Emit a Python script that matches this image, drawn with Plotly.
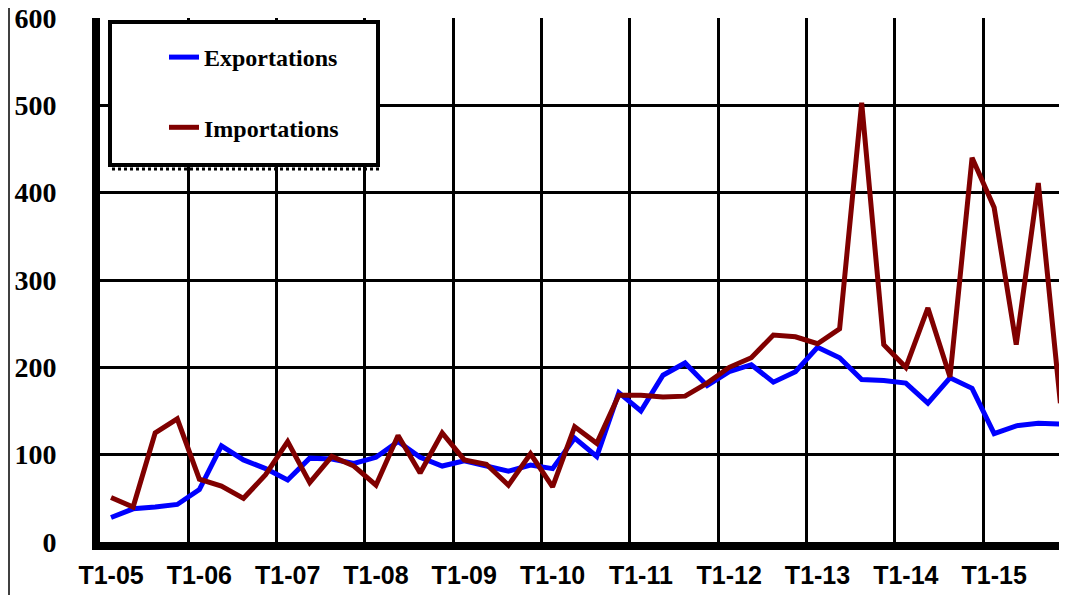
import plotly.graph_objects as go

years = ["05", "06", "07", "08", "09", "10", "11", "12", "13", "14", "15"]
quarters = [f"T{q}-{y}" for y in years for q in (1, 2, 3, 4)]
tick_labels = [f"T1-{y}" for y in years]

exportations = [28, 38, 40, 43, 60, 110, 94, 84, 71, 96, 95, 90,
                97, 115, 97, 87, 93, 87, 81, 88, 84, 119, 98, 171,
                150, 191, 205, 179, 195, 203, 183, 195, 223, 211, 186, 185,
                182, 159, 188, 176, 124, 133, 136, 135]
importations = [51, 40, 125, 141, 72, 64, 50, 77, 115, 68, 98, 87,
                65, 122, 79, 125, 94, 89, 65, 101, 63, 132, 113, 168,
                168, 166, 167, 182, 200, 211, 237, 235, 227, 244, 503, 226,
                200, 268, 189, 440, 383, 226, 411, 159]

x_idx = list(range(len(quarters)))

fig = go.Figure()
fig.add_trace(go.Scatter(x=x_idx, y=exportations, name="Exportations", mode="lines",
                         line=dict(color="#0000FF", width=5), legendgroup="a",
                         customdata=quarters))
fig.add_trace(go.Scatter(x=x_idx, y=importations, name="Importations", mode="lines",
                         line=dict(color="#800000", width=5), legendgroup="b",
                         customdata=quarters))

# page body has an 8px margin: figure drawn at (8, 8) in the window
OFF = 8
W, H = 1067 - OFF, 595 - OFF
L, R, T, B = 92, 0, 10, 53
pw, ph = W - L - R, H - T - B

def px_x(p):  # window pixel -> paper
    return (p - OFF - L) / pw

def px_y(p):
    return (H - B - (p - OFF)) / ph

fig.update_layout(
    width=W, height=H,
    margin=dict(l=L, r=R, t=T, b=B),
    paper_bgcolor="white", plot_bgcolor="white",
    showlegend=True,
    legend=dict(x=px_x(164), y=px_y(35), xanchor="left", yanchor="top",
                bgcolor="rgba(0,0,0,0)", borderwidth=0, tracegroupgap=36,
                font=dict(family="Liberation Serif", size=24, color="black", weight="bold")),
    xaxis=dict(
        range=[-0.5, 43.3],
        automargin=False,
        tickmode="array",
        tickvals=[i * 4 for i in range(len(tick_labels))],
        ticktext=tick_labels,
        showgrid=False,
        ticks="",
        tickfont=dict(family="Liberation Sans", size=25, color="black", weight="bold"),
        ticklabelstandoff=4,
        ticklabeloverflow="allow",
        showline=True, linecolor="black", linewidth=8,
        minor=dict(tickmode="array", tickvals=[i * 4 + 3.5 for i in range(len(tick_labels))],
                   showgrid=True, gridcolor="black", gridwidth=3, ticks=""),
        zeroline=False,
    ),
    yaxis=dict(
        range=[0, 600],
        automargin=False,
        dtick=100,
        showgrid=True, gridcolor="black", gridwidth=3,
        ticks="",
        tickfont=dict(family="Liberation Serif", size=28, color="black", weight="bold"),
        ticklabelstandoff=30,
        ticklabeloverflow="allow",
        showline=True, linecolor="black", linewidth=8,
        zeroline=False,
    ),
    shapes=[
        # legend box
        dict(type="rect", xref="paper", yref="paper",
             x0=px_x(110), x1=px_x(378), y0=px_y(165), y1=px_y(22),
             fillcolor="white", line=dict(color="black", width=4), layer="above"),
        dict(type="line", xref="paper", yref="paper",
             x0=px_x(112), x1=px_x(380), y0=px_y(169), y1=px_y(169),
             line=dict(color="black", width=3, dash="dot"), layer="above"),
        # outer frame line at left
        dict(type="line", xref="paper", yref="paper",
             x0=px_x(9), x1=px_x(9), y0=px_y(600), y1=px_y(0),
             line=dict(color="black", width=1.5)),
    ],
)

fig.write_html("out.html")
